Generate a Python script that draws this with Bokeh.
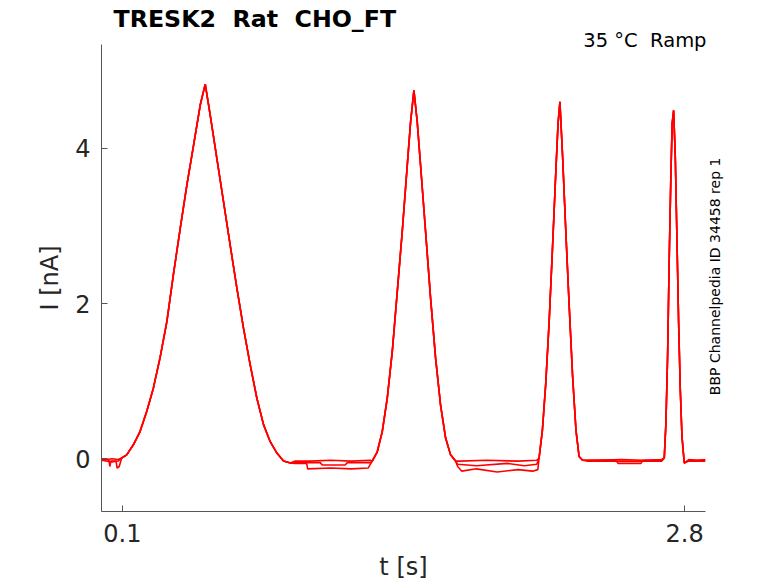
import math
from bokeh.plotting import figure
from bokeh.models import Range1d, FixedTicker, Title, LinearAxis
from bokeh.embed import file_html
from bokeh.resources import INLINE

# ---- data (t in s, I in nA) ----
peak1_t = [0.097, 0.121, 0.153, 0.185, 0.217, 0.249, 0.281, 0.314, 0.345, 0.378, 0.410, 0.442, 0.474, 0.498,
           0.522, 0.554, 0.586, 0.618, 0.650, 0.682, 0.714, 0.746, 0.778, 0.810, 0.843, 0.874, 0.907]
peak1_i = [0.01, 0.05, 0.18, 0.35, 0.61, 0.91, 1.30, 1.77, 2.37, 2.97, 3.53, 4.04, 4.56, 4.83,
           4.43, 3.87, 3.31, 2.75, 2.20, 1.68, 1.21, 0.78, 0.44, 0.22, 0.07, -0.03, -0.055]
peak2_t = [1.300, 1.324, 1.348, 1.372, 1.396, 1.420, 1.444, 1.468, 1.484, 1.500,
           1.516, 1.532, 1.556, 1.580, 1.604, 1.628, 1.652, 1.676, 1.700]
peak2_i = [-0.03, 0.09, 0.35, 0.78, 1.38, 2.15, 2.93, 3.78, 4.34, 4.75,
           4.34, 3.78, 2.93, 2.07, 1.30, 0.69, 0.27, 0.05, -0.03]
peak3_t = [2.101, 2.117, 2.133, 2.149, 2.165, 2.181, 2.192, 2.201,
           2.214, 2.229, 2.245, 2.262, 2.278, 2.293, 2.310]
peak3_i = [0.01, 0.37, 0.97, 1.75, 2.69, 3.68, 4.32, 4.60,
           3.89, 2.95, 2.00, 1.06, 0.37, 0.03, -0.02]
peak4_t = [2.702, 2.710, 2.718, 2.726, 2.734, 2.740, 2.747,
           2.755, 2.763, 2.771, 2.779, 2.787, 2.798]
peak4_i = [0.01, 0.46, 1.32, 2.60, 3.68, 4.32, 4.49,
           3.89, 2.82, 1.75, 0.89, 0.29, -0.055]

# baselines between the ramps, one set per repetition
rep1_base_t = [[0.0, 0.03, 0.05, 0.08],
               [0.93, 1.0, 1.1, 1.2, 1.29],
               [1.72, 1.85, 2.0, 2.09],
               [2.33, 2.5, 2.6, 2.69],
               [2.82, 2.86, 2.90]]
rep1_base_i = [[0.0, -0.01, 0.0, -0.01],
               [-0.03, -0.03, -0.02, -0.03, -0.02],
               [-0.03, -0.02, -0.03, -0.02],
               [-0.02, -0.01, -0.02, -0.01],
               [-0.01, -0.02, -0.01]]
rep2_base_t = [[0.0, 0.035, 0.04, 0.045, 0.07, 0.075, 0.085],
               [0.93, 0.985, 0.99, 1.10, 1.2, 1.28],
               [1.71, 1.73, 1.80, 1.90, 2.0, 2.07, 2.095],
               [2.33, 2.47, 2.48, 2.59, 2.60, 2.69],
               [2.82, 2.90]]
rep2_base_i = [[-0.01, -0.01, -0.10, -0.03, -0.03, -0.12, -0.10],
               [-0.06, -0.06, -0.13, -0.12, -0.13, -0.12],
               [-0.10, -0.16, -0.13, -0.17, -0.14, -0.16, -0.14],
               [-0.02, -0.02, -0.06, -0.06, -0.02, -0.02],
               [-0.03, -0.03]]
rep3_base_t = [[0.0, 0.05, 0.08],
               [0.93, 1.05, 1.06, 1.17, 1.18, 1.29],
               [1.71, 1.80, 1.95, 2.03, 2.09],
               [2.33, 2.69],
               [2.82, 2.90]]
rep3_base_i = [[-0.02, -0.04, -0.03],
               [-0.05, -0.05, -0.08, -0.08, -0.05, -0.05],
               [-0.07, -0.09, -0.06, -0.09, -0.07],
               [-0.03, -0.03],
               [-0.02, -0.02]]

x_ticks = [0.1, 2.8]
y_ticks = [0, 2, 4]
side_note = "BBP Channelpedia ID 34458 rep 1"

peaks_t = [peak1_t, peak2_t, peak3_t, peak4_t]
peaks_i = [peak1_i, peak2_i, peak3_i, peak4_i]

FONT = "DejaVu Sans"
TXT = "#262626"
NB = "\u00a0"

p = figure(width=778, height=583, output_backend="svg", toolbar_location=None, title=None,
           x_range=Range1d(0, 2.9), y_range=Range1d(-0.68, 5.34),
           min_border_left=101, min_border_right=73, min_border_top=44, min_border_bottom=71)
p.background_fill_color = "white"
p.border_fill_color = "white"
p.outline_line_color = None
p.xgrid.visible = False
p.ygrid.visible = False

for bt, bi in [(rep1_base_t, rep1_base_i), (rep2_base_t, rep2_base_i), (rep3_base_t, rep3_base_i)]:
    ts, vs = [], []
    for k in range(5):
        ts += bt[k]
        vs += bi[k]
        if k < 4:
            ts += peaks_t[k]
            vs += peaks_i[k]
    p.line(ts, vs, line_color="#ff0000", line_width=1.6)

p.xaxis.ticker = FixedTicker(ticks=x_ticks)
p.yaxis.ticker = FixedTicker(ticks=y_ticks)
p.xaxis.major_label_overrides = {0.1: "0.1", 2.8: "2.8"}
for ax in (p.xaxis[0], p.yaxis[0]):
    ax.axis_line_color = "#555555"
    ax.axis_line_width = 1
    ax.major_tick_line_color = "#555555"
    ax.major_tick_in = 6
    ax.major_tick_out = 0
    ax.minor_tick_line_color = None
    ax.major_label_text_font = FONT
    ax.major_label_text_font_size = "24px"
    ax.major_label_text_color = TXT
    ax.axis_label_text_font = FONT
    ax.axis_label_text_font_size = "24px"
    ax.axis_label_text_font_style = "normal"
    ax.axis_label_text_color = TXT
p.xaxis.axis_label = "t [s]"
p.yaxis.axis_label = "I [nA]"
p.xaxis.major_label_standoff = 12
p.yaxis.major_label_standoff = 11
p.xaxis.axis_label_standoff = 8
p.yaxis.axis_label_standoff = 8

# right-hand side note, written as the single (rotated) label of a bare right axis,
# anchored where the text starts (bottom end)
note_start = 0.82
side = LinearAxis(ticker=FixedTicker(ticks=[note_start]),
                  major_label_overrides={note_start: side_note},
                  major_label_orientation=math.pi / 2,
                  axis_line_color=None, major_tick_line_color=None, minor_tick_line_color=None,
                  major_tick_in=0, major_tick_out=0, major_label_standoff=10,
                  major_label_text_font=FONT, major_label_text_font_size="14px",
                  major_label_text_color="black")
p.add_layout(side, "right")

p.add_layout(Title(text="35 °C " + NB + "Ramp", align="right", offset=-1, vertical_align="middle",
                   standoff=-17, text_font=FONT, text_font_size="19.5px", text_font_style="normal",
                   text_color="black"), "above")
p.add_layout(Title(text="TRESK2 " + NB + "Rat " + NB + "CHO_FT", align="left", offset=12,
                   vertical_align="middle", standoff=6, text_font=FONT, text_font_size="23.7px",
                   text_font_style="bold", text_color="black"), "above")

open("out.html", "w").write(file_html(p, INLINE))
